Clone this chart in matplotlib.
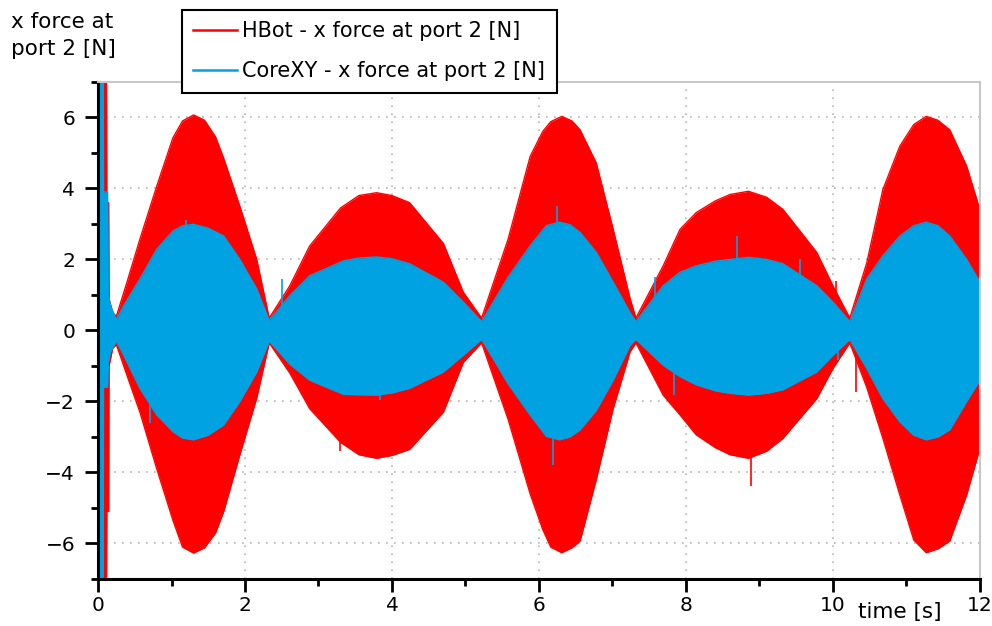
import numpy as np
import matplotlib
matplotlib.use("Agg")
import matplotlib.pyplot as plt
from matplotlib.ticker import MultipleLocator

# envelope of the HBot signal (upper / lower)
hbot_t = [0.0, 0.115, 0.12, 0.145, 0.15, 0.2, 0.25, 0.4, 0.57, 0.8, 1.02, 1.15, 1.3,
          1.45, 1.6, 1.71, 1.93, 2.16, 2.33, 2.61, 2.88, 3.3, 3.55, 3.79, 4.0, 4.24,
          4.7, 4.97, 5.22, 5.58, 5.88, 6.05, 6.16, 6.31, 6.45, 6.56, 6.78, 7.01,
          7.24, 7.32, 7.69, 7.92, 8.14, 8.4, 8.6, 8.85, 9.1, 9.32, 9.78, 10.0,
          10.23, 10.46, 10.68, 10.91, 11.1, 11.27, 11.43, 11.59, 11.82, 12.0]
hbot_up = [7.5, 7.5, 3.6, 3.6, 0.9, 0.5, 0.4, 1.4, 2.57, 4.07, 5.43, 5.9, 6.07,
           5.92, 5.45, 4.85, 3.5, 2.0, 0.35, 1.26, 2.38, 3.45, 3.8, 3.88, 3.8, 3.6,
           2.45, 1.08, 0.35, 2.57, 4.9, 5.6, 5.88, 6.03, 5.9, 5.65, 4.72, 2.85,
           0.9, 0.35, 1.82, 2.85, 3.32, 3.65, 3.83, 3.92, 3.75, 3.41, 2.2, 1.26,
           0.35, 1.9, 3.97, 5.19, 5.8, 6.03, 5.92, 5.65, 4.63, 3.4]
hbot_lo = [-7.5, -7.5, -5.1, -5.1, -1.0, -0.5, -0.4, -1.3, -2.3, -3.9, -5.35, -6.1, -6.27,
           -6.12, -5.7, -5.1, -3.5, -1.9, -0.35, -1.2, -2.2, -3.15, -3.5, -3.6, -3.52, -3.35,
           -2.3, -0.9, -0.35, -2.5, -4.6, -5.6, -6.1, -6.26, -6.12, -5.93, -4.2, -2.2,
           -0.6, -0.35, -1.82, -2.38, -2.94, -3.3, -3.5, -3.6, -3.4, -3.04, -1.92, -1.07,
           -0.35, -1.6, -3.04, -4.63, -5.9, -6.26, -6.15, -5.93, -4.63, -3.32]

# envelope of the CoreXY signal
corexy_t = [0.0, 0.07, 0.075, 0.13, 0.14, 0.17, 0.25, 0.35, 0.57, 0.8, 1.02, 1.15, 1.3,
            1.5, 1.71, 1.93, 2.16, 2.33, 2.61, 2.88, 3.34, 3.55, 3.79, 4.0, 4.24, 4.7,
            4.97, 5.22, 5.58, 5.88, 6.1, 6.28, 6.42, 6.56, 6.78, 7.01, 7.24, 7.32,
            7.69, 7.92, 8.14, 8.4, 8.6, 8.85, 9.1, 9.32, 9.78, 10.0, 10.23, 10.46,
            10.68, 10.91, 11.1, 11.27, 11.43, 11.59, 11.82, 12.0]
corexy_up = [7.5, 7.5, 3.9, 3.9, 1.0, 0.7, 0.3, 0.7, 1.45, 2.29, 2.8, 2.95, 2.99,
             2.88, 2.66, 2.0, 1.17, 0.28, 0.98, 1.54, 1.96, 2.04, 2.07, 2.02, 1.88, 1.36,
             0.8, 0.25, 1.5, 2.38, 2.95, 3.05, 2.98, 2.76, 2.2, 1.36, 0.5, 0.25,
             1.26, 1.64, 1.82, 1.95, 2.0, 2.06, 2.0, 1.88, 1.26, 0.8, 0.25, 1.45,
             2.1, 2.66, 2.95, 3.05, 2.95, 2.66, 2.0, 1.36]
corexy_lo = [-7.5, -7.5, -1.6, -1.6, -0.9, -0.6, -0.3, -0.7, -1.63, -2.38, -2.85, -3.03, -3.08,
             -2.95, -2.66, -2.0, -1.17, -0.3, -0.95, -1.4, -1.8, -1.81, -1.82, -1.76, -1.63, -1.17,
             -0.7, -0.25, -1.5, -2.38, -2.98, -3.08, -3.0, -2.8, -2.25, -1.4, -0.42, -0.25,
             -0.98, -1.3, -1.53, -1.7, -1.77, -1.82, -1.77, -1.67, -1.17, -0.7, -0.25, -1.07,
             -1.92, -2.57, -2.95, -3.08, -3.0, -2.8, -2.0, -1.4]

# single-sample spikes sticking out of the bands
corexy_spike_t = [0.71, 1.2, 2.51, 3.84, 6.19, 6.25, 7.58, 7.84, 8.70, 9.55, 10.07]
corexy_spike_y = [-2.6, 3.1, 1.45, -1.95, -3.78, 3.5, 1.5, -1.82, 2.66, 2.0, -0.84]
hbot_spike_t = [3.29, 8.89, 10.04, 10.31]
hbot_spike_y = [-3.4, -4.39, 1.4, -1.72]

red = "#ff0000"
blue = "#00a2e2"

plt.rcParams["font.family"] = ["DejaVu Sans"]

fig = plt.figure(figsize=(9.92, 6.26), dpi=100)
ax = fig.add_axes([0.0988, 0.0751, 0.889, 0.794])

# HBot
ax.fill_between(hbot_t, hbot_lo, hbot_up, color=red, lw=0, zorder=2)
ax.plot(hbot_t, hbot_up, color=red, lw=1, zorder=2,
        label="HBot - x force at port 2 [N]")
ax.plot(hbot_t, hbot_lo, color=red, lw=1, zorder=2)
ax.vlines(hbot_spike_t, 0, hbot_spike_y, color=red, lw=1.2, zorder=2)

# CoreXY
ax.fill_between(corexy_t, corexy_lo, corexy_up, color=blue, lw=0, zorder=3)
ax.plot(corexy_t, corexy_up, color=blue, lw=1, zorder=3,
        label="CoreXY - x force at port 2 [N]")
ax.plot(corexy_t, corexy_lo, color=blue, lw=1, zorder=3)
ax.vlines(corexy_spike_t, 0, corexy_spike_y, color=blue, lw=1.2, zorder=3)

ax.set_xlim(0, 12)
ax.set_ylim(-7, 7)
ax.xaxis.set_major_locator(MultipleLocator(2))
ax.xaxis.set_minor_locator(MultipleLocator(1))
ax.yaxis.set_major_locator(MultipleLocator(2))
ax.yaxis.set_minor_locator(MultipleLocator(1))

ax.set_axisbelow(True)
ax.grid(True, which="major", color="#b4b4b4", lw=1.2, linestyle=(0, (1, 3.8)))

ax.spines["left"].set_linewidth(2.2)
ax.spines["bottom"].set_linewidth(2.2)
for s in ["top", "right"]:
    ax.spines[s].set_color("#c8c8c8")
    ax.spines[s].set_linewidth(1.5)
for s in ax.spines.values():
    s.set_zorder(5)

ax.tick_params(which="major", direction="out", length=9.5, width=2, labelsize=14.5)
ax.tick_params(which="minor", direction="out", length=5, width=2)
ax.tick_params(axis="y", which="major", pad=7)
ax.tick_params(axis="x", which="major", pad=2.5)
ax.tick_params(top=False, right=False, which="both")

# axis titles placed like the original tool does
fig.text(11 / 992, 1 - 12 / 626, "x force at\nport 2 [N]", ha="left", va="top",
         fontsize=15.5, linespacing=1.45)
fig.text(900 / 992, 1 - 612 / 626, "time [s]", ha="center", va="center",
         fontsize=15.5)

leg = ax.legend(loc="upper left", bbox_to_anchor=(182 / 992, 1 - 10 / 626),
                bbox_transform=fig.transFigure, borderaxespad=0, fontsize=15,
                handlelength=2.1, handletextpad=0.25, borderpad=0.55,
                labelspacing=0.95, fancybox=False, framealpha=1,
                edgecolor="black")
leg.get_frame().set_linewidth(1.5)
for line in leg.get_lines():
    line.set_linewidth(1.8)

fig.savefig("out.png", dpi=100)
